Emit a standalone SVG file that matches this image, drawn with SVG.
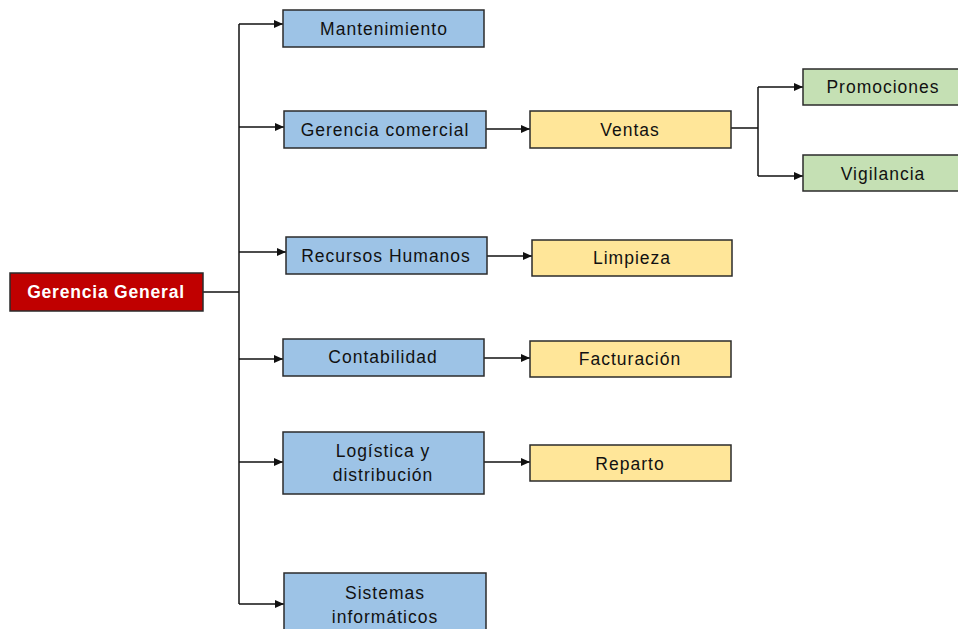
<svg xmlns="http://www.w3.org/2000/svg" width="958" height="629" viewBox="0 0 958 629">
<defs>
<marker id="arr" markerWidth="10" markerHeight="8" refX="9" refY="4" orient="auto" markerUnits="userSpaceOnUse">
<path d="M0,0 L9,4 L0,8 Z" fill="#111"/>
</marker>
<style>
.box{stroke:#2b2b2b;stroke-width:1.5}
.blue{fill:#9DC3E6}
.yel{fill:#FFE699}
.grn{fill:#C5E0B4}
.red{fill:#C00000}
text{font-family:"Liberation Sans",Arial,sans-serif;font-size:17.5px;fill:#111;text-anchor:middle;letter-spacing:1px}
.w{fill:#fff;font-weight:bold;letter-spacing:0.8px}
.c{fill:none;stroke:#111;stroke-width:1.5}
.a{marker-end:url(#arr)}
</style>
</defs>
<rect width="958" height="629" fill="#fff"/>
<g id="connectors">
<path class="c" d="M203,292 H239"/>
<path class="c" d="M239,24 V604"/>
<path class="c a" d="M239,24 H283"/>
<path class="c a" d="M239,127 H284"/>
<path class="c a" d="M239,252 H286"/>
<path class="c a" d="M239,359 H283"/>
<path class="c a" d="M239,462 H283"/>
<path class="c a" d="M239,604 H284"/>
<path class="c a" d="M486,129 H530"/>
<path class="c a" d="M487,256 H532"/>
<path class="c a" d="M484,358 H530"/>
<path class="c a" d="M484,462 H530"/>
<path class="c" d="M731,128 H758"/>
<path class="c" d="M758,87 V176"/>
<path class="c a" d="M758,87 H803"/>
<path class="c a" d="M758,176 H803"/>
</g>
<g id="gerencia-general">
<rect class="box red" x="10" y="273" width="193" height="38"/>
<text class="w" x="106" y="298">Gerencia General</text>
</g>
<g id="mantenimiento">
<rect class="box blue" x="283" y="10" width="201" height="37"/>
<text x="384" y="35">Mantenimiento</text>
</g>
<g id="gerencia-comercial">
<rect class="box blue" x="284" y="111" width="202" height="37"/>
<text x="385" y="136">Gerencia comercial</text>
</g>
<g id="recursos-humanos">
<rect class="box blue" x="286" y="237" width="201" height="37"/>
<text x="386" y="262">Recursos Humanos</text>
</g>
<g id="contabilidad">
<rect class="box blue" x="283" y="339" width="201" height="37"/>
<text x="383" y="363">Contabilidad</text>
</g>
<g id="logistica">
<rect class="box blue" x="283" y="432" width="201" height="62"/>
<text x="383" y="457">Logística y</text>
<text x="383" y="481">distribución</text>
</g>
<g id="sistemas">
<rect class="box blue" x="284" y="573" width="202" height="70"/>
<text x="385" y="599">Sistemas</text>
<text x="385" y="623">informáticos</text>
</g>
<g id="ventas">
<rect class="box yel" x="530" y="111" width="201" height="37"/>
<text x="630" y="136">Ventas</text>
</g>
<g id="limpieza">
<rect class="box yel" x="532" y="240" width="200" height="36"/>
<text x="632" y="264">Limpieza</text>
</g>
<g id="facturacion">
<rect class="box yel" x="530" y="341" width="201" height="36"/>
<text x="630" y="365">Facturación</text>
</g>
<g id="reparto">
<rect class="box yel" x="530" y="445" width="201" height="36"/>
<text x="630" y="470">Reparto</text>
</g>
<g id="promociones">
<rect class="box grn" x="803" y="69" width="162" height="36"/>
<text x="883" y="93">Promociones</text>
</g>
<g id="vigilancia">
<rect class="box grn" x="803" y="155" width="162" height="36"/>
<text x="883" y="180">Vigilancia</text>
</g>
</svg>
